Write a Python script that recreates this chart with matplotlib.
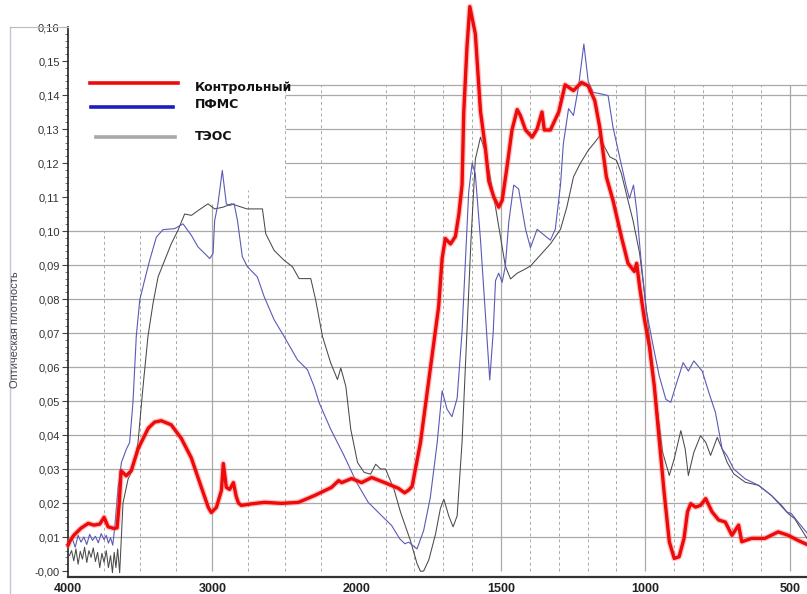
import numpy as np
import matplotlib
matplotlib.use("Agg")
import matplotlib.pyplot as plt
from matplotlib.lines import Line2D
from matplotlib.ticker import FixedLocator, FuncFormatter, MultipleLocator, NullLocator

plt.rcParams["font.family"] = ["Liberation Sans", "DejaVu Sans"]

# ---------- spectra (wavenumber, cm-1 -> optical density) ----------
ctrl_wn = [4000, 3990, 3960, 3910, 3860, 3820, 3780, 3750, 3722, 3680, 3660, 3645, 3632, 3597,
           3562, 3514, 3444, 3400, 3354, 3285, 3215, 3146, 3076, 3028, 3007, 2972, 2937, 2924,
           2903, 2880, 2854, 2835, 2819, 2799, 2720, 2639, 2521, 2403, 2292, 2174, 2125, 2104,
           2035, 1983, 1948, 1903, 1855, 1834, 1820, 1808, 1779, 1745, 1716, 1704, 1693, 1675,
           1658, 1646, 1635, 1629, 1618, 1608, 1589, 1571, 1554, 1542, 1525, 1508, 1496, 1479,
           1462, 1444, 1433, 1415, 1392, 1375, 1358, 1350, 1329, 1300, 1278, 1249, 1221, 1198,
           1175, 1158, 1135, 1112, 1083, 1060, 1038, 1030, 1020, 1003, 986, 969, 952, 935, 917,
           900, 883, 866, 854, 843, 826, 809, 791, 769, 746, 723, 700, 677, 666, 632, 586, 540,
           505, 471, 440]
ctrl_od = [0.0075, 0.0086, 0.0105, 0.0126, 0.0140, 0.0135, 0.0138, 0.0158, 0.0130, 0.0125,
           0.0127, 0.0200, 0.0295, 0.0280, 0.0295, 0.0360, 0.0420, 0.0438, 0.0442, 0.0430,
           0.0390, 0.0333, 0.0246, 0.0187, 0.0172, 0.0187, 0.0237, 0.0316, 0.0246, 0.0240,
           0.0260, 0.0220, 0.0200, 0.0193, 0.0198, 0.0202, 0.0199, 0.0202, 0.0222, 0.0246,
           0.0266, 0.0260, 0.0272, 0.0260, 0.0275, 0.0260, 0.0243, 0.0230, 0.0238, 0.0249,
           0.0378, 0.0594, 0.0778, 0.0919, 0.0978, 0.0962, 0.0984, 0.1049, 0.1135, 0.1350,
           0.1540, 0.1660, 0.1580, 0.1351, 0.1243, 0.1146, 0.1100, 0.1070, 0.1090, 0.1190,
           0.1297, 0.1357, 0.1340, 0.1297, 0.1276, 0.1300, 0.1350, 0.1297, 0.1297, 0.1350,
           0.1430, 0.1413, 0.1437, 0.1427, 0.1383, 0.1305, 0.1159, 0.1090, 0.0983, 0.0905,
           0.0881, 0.0905, 0.0837, 0.0740, 0.0661, 0.0544, 0.0388, 0.0232, 0.0086, 0.0037,
           0.0042, 0.0096, 0.0174, 0.0198, 0.0188, 0.0193, 0.0213, 0.0174, 0.0150, 0.0144,
           0.0105, 0.0135, 0.0086, 0.0096, 0.0096, 0.0115, 0.0105, 0.0090, 0.0078]

pfms_wn = [4000, 3988, 3970, 3950, 3930, 3910, 3890, 3870, 3850, 3830, 3810, 3790, 3770, 3750,
           3735, 3720, 3705, 3690, 3677, 3654, 3630, 3596, 3573, 3550, 3527, 3503, 3469, 3434,
           3388, 3342, 3261, 3203, 3145, 3099, 3065, 3018, 2995, 2984, 2961, 2931, 2903, 2880,
           2849, 2826, 2792, 2757, 2688, 2641, 2572, 2503, 2410, 2341, 2295, 2260, 2180, 2087,
           2000, 1960, 1914, 1879, 1851, 1833, 1820, 1791, 1768, 1745, 1721, 1704, 1687, 1670,
           1652, 1635, 1623, 1612, 1600, 1589, 1571, 1554, 1539, 1527, 1519, 1508, 1496, 1485,
           1473, 1456, 1439, 1415, 1398, 1375, 1352, 1329, 1312, 1294, 1284, 1266, 1249, 1232,
           1213, 1198, 1181, 1152, 1129, 1112, 1089, 1066, 1055, 1041, 1030, 1015, 997, 975,
           952, 929, 912, 895, 869, 851, 832, 803, 780, 757, 734, 717, 694, 654, 608, 563, 511,
           494, 471, 440]
pfms_od = [0.0075, 0.0080, 0.0095, 0.0070, 0.0105, 0.0085, 0.0100, 0.0078, 0.0108, 0.0090,
           0.0102, 0.0083, 0.0110, 0.0092, 0.0105, 0.0082, 0.0098, 0.0076, 0.0124, 0.0241,
           0.0319, 0.0358, 0.0378, 0.0495, 0.0690, 0.0797, 0.0856, 0.0914, 0.0982, 0.1004,
           0.1007, 0.1021, 0.0987, 0.0953, 0.0939, 0.0919, 0.0934, 0.1030, 0.1080, 0.1178,
           0.1080, 0.1075, 0.1080, 0.1031, 0.0924, 0.0895, 0.0865, 0.0807, 0.0739, 0.0690,
           0.0621, 0.0592, 0.0543, 0.0495, 0.0417, 0.0339, 0.0260, 0.0202, 0.0163, 0.0134,
           0.0095, 0.0080, 0.0085, 0.0065, 0.0119, 0.0216, 0.0378, 0.0530, 0.0476, 0.0454,
           0.0508, 0.0703, 0.0919, 0.1114, 0.1200, 0.1168, 0.0973, 0.0757, 0.0562, 0.0703,
           0.0854, 0.0876, 0.0849, 0.0897, 0.1027, 0.1135, 0.1124, 0.1005, 0.0951, 0.1005,
           0.0989, 0.0973, 0.1005, 0.1135, 0.1257, 0.1360, 0.1340, 0.1422, 0.1550, 0.1440,
           0.1408, 0.1403, 0.1398, 0.1305, 0.1218, 0.1130, 0.1096, 0.1135, 0.1061, 0.0915,
           0.0769, 0.0671, 0.0574, 0.0505, 0.0496, 0.0544, 0.0613, 0.0588, 0.0618, 0.0588,
           0.0525, 0.0466, 0.0359, 0.0339, 0.0300, 0.0271, 0.0252, 0.0222, 0.0174, 0.0169,
           0.0144, 0.0112]

teos_wn = [4000, 3990, 3975, 3960, 3945, 3930, 3915, 3900, 3885, 3870, 3855, 3840, 3825, 3810,
           3795, 3780, 3765, 3750, 3735, 3720, 3705, 3692, 3680, 3668, 3656, 3642, 3619, 3584,
           3550, 3515, 3480, 3446, 3411, 3376, 3330, 3284, 3238, 3192, 3145, 3099, 3030, 2984,
           2926, 2868, 2760, 2653, 2630, 2572, 2503, 2445, 2399, 2318, 2284, 2237, 2180, 2133,
           2110, 2075, 2041, 1997, 1974, 1952, 1934, 1917, 1900, 1871, 1848, 1814, 1791, 1779,
           1768, 1750, 1727, 1710, 1698, 1681, 1666, 1652, 1635, 1618, 1604, 1589, 1571, 1554,
           1537, 1519, 1502, 1485, 1467, 1444, 1421, 1398, 1363, 1329, 1294, 1272, 1249, 1226,
           1198, 1175, 1158, 1141, 1123, 1100, 1083, 1066, 1043, 1020, 1003, 980, 957, 940, 917,
           900, 877, 862, 851, 832, 809, 791, 774, 751, 734, 717, 694, 654, 608, 563, 528, 505,
           483, 440]
teos_od = [0.0050, 0.0045, 0.0060, 0.0030, 0.0065, 0.0020, 0.0058, 0.0035, 0.0070, 0.0025,
           0.0060, 0.0040, 0.0068, 0.0028, 0.0055, 0.0010, 0.0052, 0.0025, 0.0060, 0.0010,
           0.0045, -0.0005, 0.0055, 0.0010, 0.0065, -0.0005, 0.0200, 0.0270, 0.0300, 0.0378,
           0.0543, 0.0690, 0.0787, 0.0865, 0.0914, 0.0963, 0.1002, 0.1050, 0.1046, 0.1060,
           0.1080, 0.1065, 0.1070, 0.1080, 0.1065, 0.1065, 0.0992, 0.0943, 0.0914, 0.0895,
           0.0860, 0.0860, 0.0797, 0.0690, 0.0612, 0.0563, 0.0597, 0.0543, 0.0417, 0.0319,
           0.0290, 0.0285, 0.0314, 0.0300, 0.0300, 0.0241, 0.0173, 0.0090, 0.0022, -0.0001,
           0.0000, 0.0033, 0.0108, 0.0184, 0.0211, 0.0162, 0.0130, 0.0162, 0.0378, 0.0703,
           0.0973, 0.1211, 0.1276, 0.1232, 0.1157, 0.1070, 0.0984, 0.0897, 0.0859, 0.0876,
           0.0886, 0.0897, 0.0930, 0.0962, 0.1005, 0.1070, 0.1159, 0.1198, 0.1237, 0.1261,
           0.1280, 0.1247, 0.1218, 0.1208, 0.1169, 0.1110, 0.1032, 0.0935, 0.0818, 0.0642,
           0.0466, 0.0349, 0.0281, 0.0330, 0.0413, 0.0359, 0.0281, 0.0349, 0.0398, 0.0379,
           0.0340, 0.0393, 0.0359, 0.0320, 0.0286, 0.0261, 0.0252, 0.0222, 0.0193, 0.0169,
           0.0154, 0.0096]

series_names = ["Контрольный", "ПФМС", "ТЭОС"]
x_ticks = [4000, 3000, 2000, 1500, 1000, 500]

RED, BLUE, GRAY = "#ee0a0a", "#5a5ab8", "#4a4a4a"
GRID = "#a9a9a9"
W, H = 807, 594


# wavenumber axis: scale doubles below 2000 cm-1
def fwd(w):
    w = np.asarray(w, dtype=float)
    return np.where(w >= 2000, w, 2000 + 2 * (w - 2000))


def inv(u):
    u = np.asarray(u, dtype=float)
    return np.where(u >= 2000, u, 2000 + (u - 2000) / 2)


fig = plt.figure(figsize=(W / 100, H / 100), dpi=100)
ax = fig.add_axes([68 / W, 17 / H, 739 / W, 550 / H])
ax.set_xscale("function", functions=(fwd, inv))
ax.set_xlim(4000, 440)
ax.set_ylim(-0.00176, 0.16)

# grid (chart frame tops out at ~0.143)
TOP = 0.143
for v in np.arange(0.01, 0.1001, 0.01):
    ax.hlines(v, 4000, 440, color=GRID, lw=0.9, zorder=1)
for v in [0.11, 0.12, 0.13, 0.14, TOP]:
    ax.hlines(v, 2500, 440, color=GRID, lw=0.9, zorder=1)
ax.vlines(3000, 0, 0.108, color=GRID, lw=0.9, zorder=1)
ax.vlines([1500, 1000, 500], 0, TOP, color=GRID, lw=0.9, zorder=1)
dash = dict(color=GRID, lw=0.7, linestyles=(0, (3, 3)), zorder=1)
ax.vlines([3750, 3500, 3250], 0, 0.10, **dash)
ax.vlines(2750, 0, 0.112, **dash)
ax.vlines([2500, 2250], 0, TOP, **dash)
ax.vlines([1900, 1800, 1700, 1600, 1400, 1300, 1200, 1100, 900, 800, 700, 600], 0, TOP, **dash)

# spectra (peaks rise above the frame, so no clipping)
ax.plot(teos_wn, teos_od, color=GRAY, lw=0.75, zorder=3, clip_on=False)
ax.plot(pfms_wn, pfms_od, color=BLUE, lw=0.8, zorder=3, clip_on=False)
ax.plot(ctrl_wn, ctrl_od, color="#ff6a6a", lw=4.2, alpha=0.4, zorder=4, clip_on=False,
        solid_joinstyle="round", solid_capstyle="round")
ax.plot(ctrl_wn, ctrl_od, color=RED, lw=2.4, zorder=5, clip_on=False,
        solid_joinstyle="round", solid_capstyle="round")

# axes
for s in ["top", "right"]:
    ax.spines[s].set_visible(False)
ax.spines["left"].set_color("#222222")
ax.spines["left"].set_linewidth(1.2)
ax.spines["bottom"].set_color("#333333")
ax.spines["bottom"].set_linewidth(1.6)

ax.yaxis.set_major_locator(MultipleLocator(0.01))
ax.yaxis.set_minor_locator(MultipleLocator(0.002))
ax.yaxis.set_major_formatter(FuncFormatter(
    lambda v, _: "-0,00" if abs(v) < 1e-9 else f"{v:.2f}".replace(".", ",")))
ax.tick_params(axis="y", which="major", length=4, width=0.8, color="#444444",
               labelsize=8, labelcolor="#333333", pad=2)
ax.tick_params(axis="y", which="minor", length=2, width=0.6, color="#666666")

ax.xaxis.set_major_locator(FixedLocator(x_ticks))
ax.xaxis.set_minor_locator(NullLocator())
ax.xaxis.set_major_formatter(FuncFormatter(lambda v, _: f"{v:.0f}"))
ax.tick_params(axis="x", length=0, labelsize=9, labelcolor="#222222", pad=4)
for lab in ax.get_xticklabels():
    lab.set_fontweight("bold")

fig.text(15 / W, 1 - 330 / H, "Оптическая плотность", rotation=90, fontsize=8,
         color="#444444", ha="center", va="center")

# outer frame on the left
fig.add_artist(Line2D([10 / W, 10 / W], [1 - 27 / H, 0], color="#c4c4d8", lw=1.0))
fig.add_artist(Line2D([10 / W, 68 / W], [1 - 27 / H, 1 - 27 / H], color="#bbbbbb", lw=0.8))

# legend
legend_rows = [(RED, 90, 178, 83, 88), ("#1c1cc0", 91, 173, 107, 105), ("#a8a8a8", 96, 175, 137, 137)]
for name, (c, x0, x1, yl, yt) in zip(series_names, legend_rows):
    fig.add_artist(Line2D([x0 / W, x1 / W], [1 - yl / H, 1 - yl / H], color=c, lw=2.6))
    fig.text(195 / W, 1 - yt / H, name, fontsize=9, fontweight="bold", color="#111111",
             ha="left", va="center", family=["DejaVu Sans"])

fig.savefig("out.png", dpi=100, facecolor="white")
